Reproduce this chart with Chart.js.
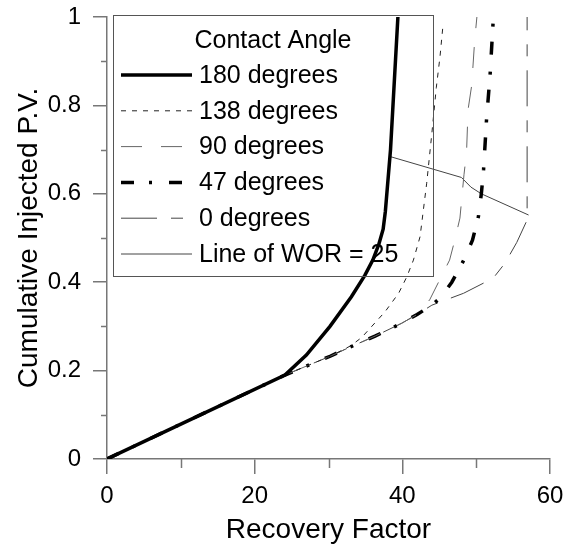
<!DOCTYPE html>
<html lang="en">
<head>
  <meta charset="UTF-8">
  <title>Recovery Factor vs Cumulative Injected P.V.</title>
  <script src="https://cdn.jsdelivr.net/npm/chart.js"></script>
  <style>
    html, body { margin: 0; padding: 0; background: #fff; }
  </style>
</head>
<body>
  <canvas id="rf-chart" width="566" height="550"></canvas>

  <script>
    // values: recovery factor (x) vs cumulative injected P.V. (y)
    const rf180 = [0, 10, 24.1, 27, 30.2, 33.1, 34.9, 36, 36.8, 37.4, 37.7, 38.4, 38.7, 39.4];
    const pv180 = [0, 0.079, 0.19, 0.235, 0.30, 0.367, 0.415, 0.45, 0.485, 0.52, 0.56, 0.70, 0.79, 1.0];

    const rf138 = [0, 10, 24.1, 30.3, 33, 34.5, 37.65, 39.5, 40.6, 41.5, 42.4, 43.3, 44, 44.6, 45.1, 45.5];
    const pv138 = [0, 0.079, 0.19, 0.233, 0.256, 0.275, 0.333, 0.375, 0.412, 0.45, 0.503, 0.624, 0.737, 0.84, 0.91, 0.98];

    const rf90 = [0, 10, 24.1, 30.3, 32.5, 36.3, 39.9, 42, 43.7, 44.9, 46.4, 47.1, 47.8, 48.35, 48.7, 48.9, 49.4, 49.8, 50.1];
    const pv90 = [0, 0.079, 0.19, 0.233, 0.25, 0.278, 0.307, 0.327, 0.36, 0.40, 0.45, 0.495, 0.545, 0.643, 0.695, 0.79, 0.846, 0.948, 1.0];

    const rf47 = [0, 10, 24.1, 30.3, 32.5, 36.3, 39.9, 42, 44, 45.3, 46.7, 48.2, 49.5, 50.3, 50.7, 51, 51.2, 51.4, 51.9, 52.3];
    const pv47 = [0, 0.079, 0.19, 0.233, 0.25, 0.278, 0.307, 0.327, 0.348, 0.367, 0.40, 0.446, 0.495, 0.548, 0.60, 0.654, 0.71, 0.767, 0.873, 0.99];

    const rf0 = [0, 10, 24.1, 30.3, 32.5, 36.3, 39.9, 42, 44, 48.3, 52.3, 53.9, 55.5, 56.8, 56.9, 56.9];
    const pv0 = [0, 0.079, 0.19, 0.233, 0.25, 0.278, 0.307, 0.327, 0.348, 0.375, 0.409, 0.443, 0.49, 0.537, 0.556, 1.0];

    const rfWor = [38.4, 48, 49.3, 50.7, 57.1];
    const pvWor = [0.684, 0.637, 0.615, 0.60, 0.552];

    const seriesNames = ['180 degrees', '138 degrees', '90 degrees', '47 degrees', '0 degrees', 'Line of WOR = 25'];
    const legendTitle = 'Contact Angle';
    const xTickLabels = [0, 20, 40, 60];
    const yTickLabels = [0, 0.2, 0.4, 0.6, 0.8, 1];

    const FONT = "'Liberation Sans', Arial, sans-serif";
    const AXIS_GRAY = '#777';

    function pairs(xs, ys) {
      return xs.map((x, i) => ({ x: x, y: ys[i] }));
    }

    function isLabelled(list, v) {
      return list.some(t => Math.abs(t - v) < 1e-6);
    }

    // short minor ticks (10, 30, 50 and 0.1, 0.3 ...)
    const minorTicks = {
      id: 'minorTicks',
      afterDraw(chart) {
        const ctx = chart.ctx;
        const xs = chart.scales.x, ys = chart.scales.y;
        ctx.save();
        ctx.strokeStyle = AXIS_GRAY;
        ctx.lineWidth = 1.5;
        ctx.beginPath();
        xs.ticks.forEach(t => {
          if (isLabelled(xTickLabels, t.value)) return;
          const px = Math.round(xs.getPixelForValue(t.value)) + 0.5;
          ctx.moveTo(px, ys.bottom);
          ctx.lineTo(px, ys.bottom + 9);
        });
        ys.ticks.forEach(t => {
          if (isLabelled(yTickLabels, t.value)) return;
          const py = Math.round(ys.getPixelForValue(t.value)) + 0.5;
          ctx.moveTo(xs.left, py);
          ctx.lineTo(xs.left - 6, py);
        });
        ctx.stroke();
        ctx.restore();
      }
    };

    // boxed legend with a title, sitting inside the plot area
    const boxLegend = {
      id: 'boxLegend',
      afterDatasetsDraw(chart) {
        const ctx = chart.ctx;
        const area = chart.chartArea;
        const left = area.left + 6, top = area.top - 2;
        const w = 320, h = 261;
        ctx.save();
        ctx.strokeStyle = '#555';
        ctx.lineWidth = 1;
        ctx.strokeRect(left + 0.5, top + 0.5, w, h);

        ctx.fillStyle = '#000';
        ctx.font = '25px ' + FONT;
        ctx.textBaseline = 'middle';
        ctx.textAlign = 'center';
        ctx.fillText(legendTitle, left + w / 2, top + 26);

        ctx.textAlign = 'left';
        chart.data.datasets.forEach((ds, i) => {
          const y = top + 60 + i * 35.8;
          ctx.save();
          ctx.strokeStyle = ds.borderColor;
          ctx.lineWidth = ds.borderWidth;
          ctx.setLineDash(ds.borderDash || []);
          ctx.beginPath();
          ctx.moveTo(left + 8, y);
          ctx.lineTo(left + 79, y);
          ctx.stroke();
          ctx.restore();
          ctx.fillText(ds.label, left + 86, y + 1);
        });
        ctx.restore();
      }
    };

    const styles = [
      { color: '#000', width: 3.5, dash: [] },
      { color: '#222', width: 1, dash: [5, 6] },
      { color: '#666', width: 1, dash: [21, 19] },
      { color: '#000', width: 3.5, dash: [13, 15, 3, 17] },
      { color: '#444', width: 1, dash: [36, 14, 12, 14] },
      { color: '#444', width: 1, dash: [] }
    ];
    const series = [
      pairs(rf180, pv180), pairs(rf138, pv138), pairs(rf90, pv90),
      pairs(rf47, pv47), pairs(rf0, pv0), pairs(rfWor, pvWor)
    ];

    const ctx = document.getElementById('rf-chart').getContext('2d');
    new Chart(ctx, {
      type: 'scatter',
      data: {
        datasets: series.map((d, i) => ({
          label: seriesNames[i],
          data: d,
          showLine: true,
          borderColor: styles[i].color,
          borderWidth: styles[i].width,
          borderDash: styles[i].dash,
          pointRadius: 0,
          tension: 0
        }))
      },
      options: {
        responsive: false,
        animation: false,
        devicePixelRatio: 1,
        layout: { padding: { left: 0, right: 16, top: 17, bottom: 0 } },
        plugins: {
          legend: { display: false },
          tooltip: { enabled: false }
        },
        scales: {
          x: {
            type: 'linear',
            min: 0, max: 60,
            afterFit(scale) {
              scale.height = 91;
              scale.paddingLeft = 0;
              scale.paddingRight = 0;
            },
            ticks: {
              stepSize: 10,
              padding: 8,
              color: '#000',
              font: { family: FONT, size: 24 },
              maxRotation: 0,
              callback: v => isLabelled(xTickLabels, v) ? String(v) : ''
            },
            grid: {
              drawOnChartArea: false,
              tickLength: 15,
              lineWidth: 1.5,
              tickColor: c => isLabelled(xTickLabels, c.tick.value) ? AXIS_GRAY : 'rgba(0,0,0,0)'
            },
            border: { display: true, color: AXIS_GRAY, width: 1.5 },
            title: {
              display: true,
              text: 'Recovery Factor',
              color: '#000',
              font: { family: FONT, size: 28 },
              padding: { top: 0, bottom: 3 }
            }
          },
          y: {
            type: 'linear',
            min: 0, max: 1,
            afterFit(scale) {
              scale.width = 107;
              scale.paddingTop = 0;
              scale.paddingBottom = 0;
            },
            ticks: {
              stepSize: 0.1,
              padding: 12,
              color: '#000',
              font: { family: FONT, size: 24 },
              callback: v => isLabelled(yTickLabels, v) ? String(Math.round(v * 10) / 10) : ''
            },
            grid: {
              drawOnChartArea: false,
              tickLength: 14,
              lineWidth: 1.5,
              tickColor: c => isLabelled(yTickLabels, c.tick.value) ? AXIS_GRAY : 'rgba(0,0,0,0)'
            },
            border: { display: true, color: AXIS_GRAY, width: 1.5 },
            title: {
              display: true,
              text: 'Cumulative Injected P.V.',
              color: '#000',
              font: { family: FONT, size: 28 },
              padding: { top: 12, bottom: 0 }
            }
          }
        }
      },
      plugins: [minorTicks, boxLegend]
    });
  </script>
</body>
</html>
